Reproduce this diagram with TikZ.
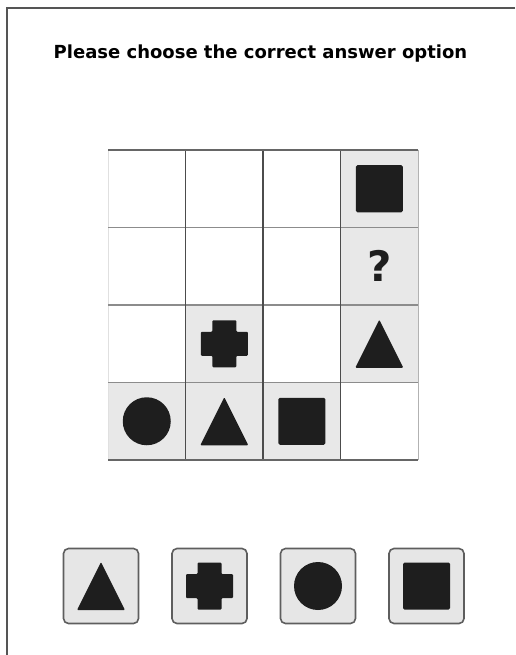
\documentclass[tikz,border=0pt]{standalone}
\usepackage{fontspec}
\setmainfont{DejaVu Sans}
\usetikzlibrary{positioning}

\definecolor{cellgray}{HTML}{E8E8E8}
\definecolor{boxgray}{HTML}{E6E6E6}
\definecolor{boxedge}{HTML}{5E5E5E}
\definecolor{shapeblack}{HTML}{1E1E1E}
\definecolor{framegray}{HTML}{555555}

\begin{document}
\begin{tikzpicture}[
    x=1pt, y=-1pt,
    every node/.style={inner sep=0pt, outer sep=0pt},
    shaded/.style={fill=cellgray, minimum size=77.5pt},
    option/.style={draw=boxedge, line width=1.6pt, fill=boxgray, rounded corners=5pt, minimum size=75pt},
    sqmark/.style={fill=shapeblack, rounded corners=1.5pt, minimum size=47pt},
    dotmark/.style={circle, fill=shapeblack, minimum size=48pt},
    qmark/.style={text=shapeblack, font=\fontsize{42}{42}\selectfont\bfseries},
    title/.style={font=\fontsize{18}{21}\selectfont\bfseries},
    tri/.pic={\fill[shapeblack, rounded corners=1pt] (-24,24) -- (24,24) -- (0,-24) -- cycle;},
    plus/.pic={\fill[shapeblack, rounded corners=1pt] (-12,-23.5) -- (12,-23.5) -- (12,-12) -- (23.5,-12) -- (23.5,12) -- (12,12) -- (12,23.5) -- (-12,23.5) -- (-12,12) -- (-23.5,12) -- (-23.5,-12) -- (-12,-12) -- cycle;}
]
\useasboundingbox (0,0) rectangle (515,655);

% page frame
\draw[framegray, line width=1.3pt] (515,8) -- (7,8) -- (7,655);

\node[title] (prompt) at (260.5,54) {Please choose the correct answer option};

% cell centres
\foreach \c in {1,...,4}
  \foreach \r in {1,...,4}
    \coordinate (p\c\r) at ({108+77.5*(\c-0.5)},{150+77.5*(\r-0.5)});

% shaded cells
\foreach \c/\r in {4/1,4/2,4/3,2/3,1/4,2/4,3/4}
  \node[shaded] (g\c\r) at (p\c\r) {};

% grid lines
\draw[black!12, line width=1pt] (108,150) -- (108,460);
\draw[black!30, line width=1pt] (418,150) -- (418,460);
\foreach \r in {1,2,3}
  \draw[black!45, line width=1.1pt] (108,{150+77.5*\r}) -- (418,{150+77.5*\r});
\foreach \c in {1,2,3}
  \draw[black!70, line width=1.1pt] ({108+77.5*\c},150) -- ({108+77.5*\c},460);
\draw[black!60, line width=1.8pt] (108,150) -- (418,150);
\draw[black!60, line width=1.8pt] (108,460) -- (418,460);

% figures in the grid
\node[sqmark] (sqa) at (p41) {};
\node[qmark] (ask) at (p42) {?};
\pic at (p43) {tri};
\pic at (p23) {plus};
\node[dotmark] (dota) at (p14) {};
\pic at (p24) {tri};
\node[sqmark] (sqb) at (p34) {};

% answer options
\foreach \i/\x in {1/101,2/209.5,3/318,4/426.5}
  \node[option] (opt\i) at (\x,586) {};
\pic at (opt1) {tri};
\pic at (opt2) {plus};
\node[dotmark] (dotb) at (opt3) {};
\node[sqmark] (sqc) at (opt4) {};
\end{tikzpicture}
\end{document}
